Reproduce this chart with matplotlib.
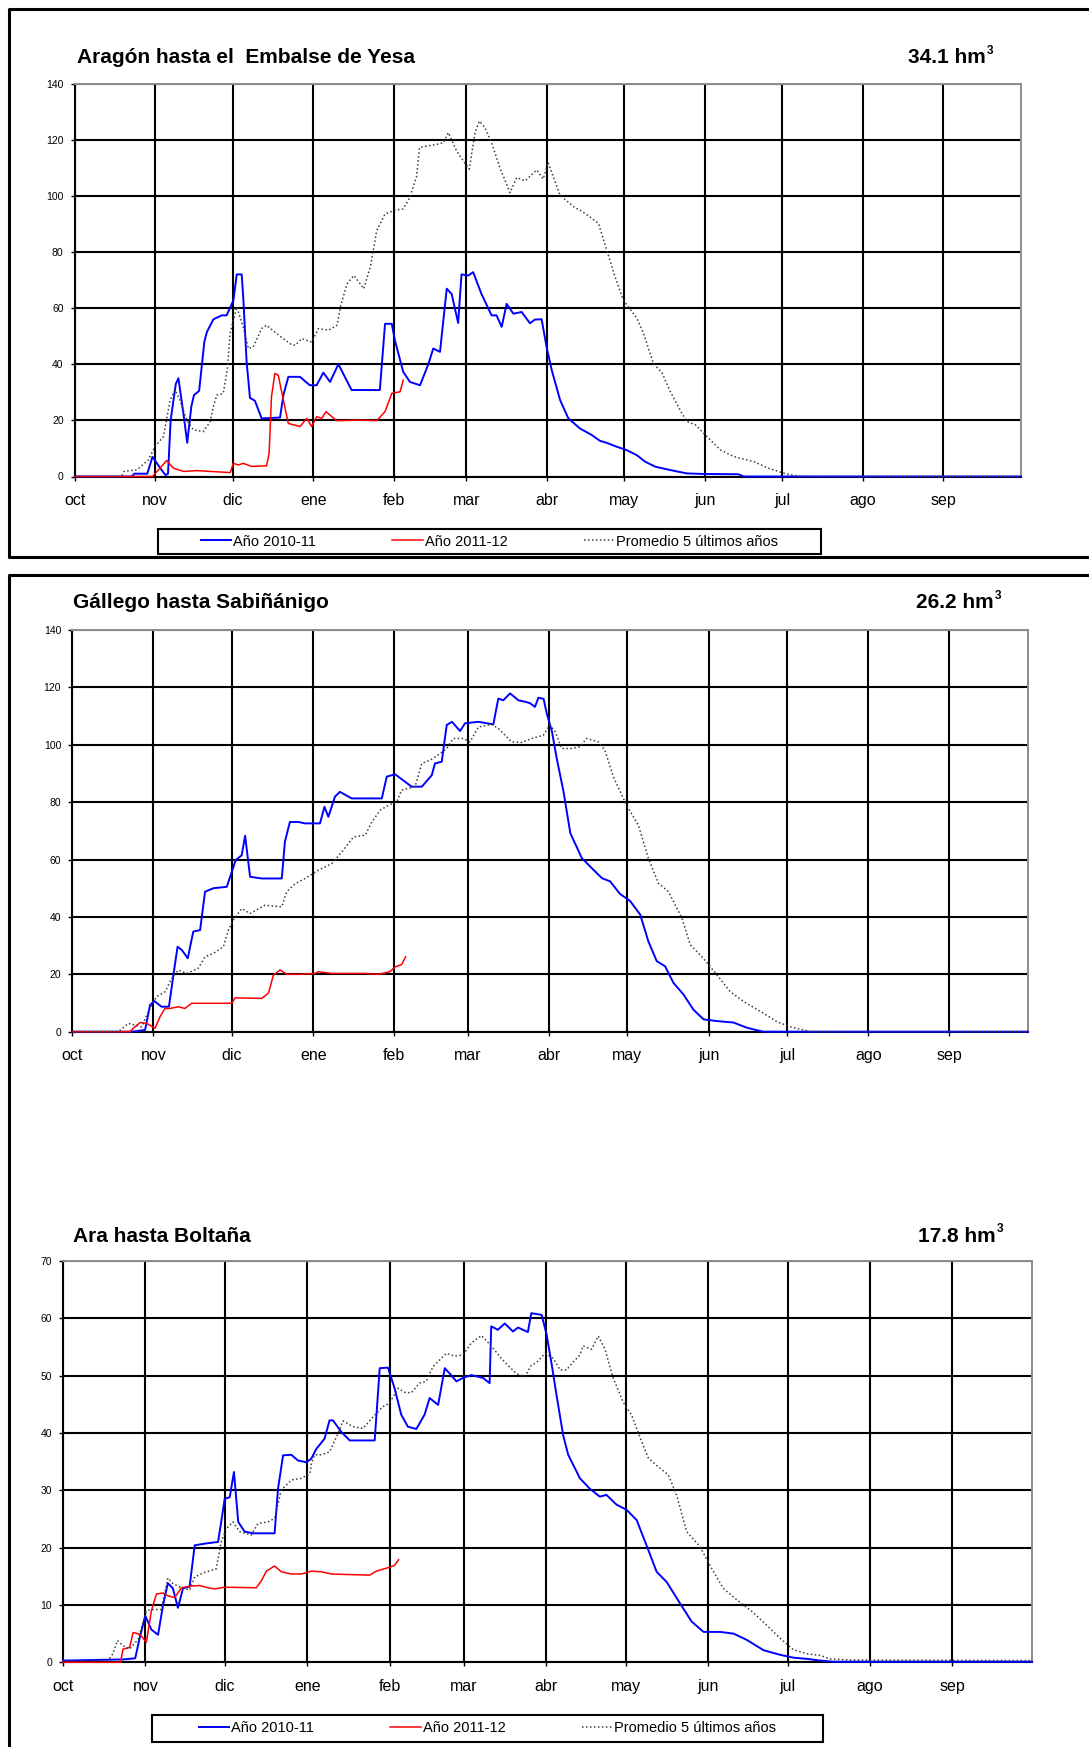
import matplotlib
matplotlib.use("Agg")
import matplotlib.pyplot as plt
from matplotlib.lines import Line2D
from matplotlib.patches import Rectangle

plt.rcParams['font.family'] = ['Liberation Sans', 'DejaVu Sans']

# Meses del año hidrológico (día 0 = 1 de octubre)
meses = ['oct', 'nov', 'dic', 'ene', 'feb', 'mar', 'abr', 'may', 'jun', 'jul', 'ago', 'sep']
inicio_mes = [0, 31, 61, 92, 123, 151, 182, 212, 243, 273, 304, 335]

etiquetas = ['Año 2010-11', 'Año 2011-12', 'Promedio 5 últimos años']

# --- Aragón hasta el Embalse de Yesa (día, hm3) ---
aragon_1011 = [(0, 0), (22, 0), (23, 1), (28, 1), (30, 7), (33, 3), (35, 0.5), (36, 1), (37, 20), (39, 33),
               (40, 35), (42, 22), (43.4, 12), (45, 25), (46, 29), (48, 30.5), (50, 48), (51, 51.5), (53.5, 56),
               (56.7, 57.4), (58.6, 57.4), (61.2, 62.7), (62.5, 72), (64.4, 72), (65, 64), (66.3, 41), (67.6, 28),
               (69.5, 27), (72.1, 20.7), (79.2, 21), (80.5, 29), (82.4, 35.5), (86.9, 35.5), (90.7, 32.5),
               (93.3, 32.5), (95.9, 37), (98.5, 33.7), (101.7, 40), (106.8, 30.8), (117.7, 30.8), (119.7, 54.4),
               (122.3, 54.4), (123.5, 48.5), (126.7, 37.3), (129.3, 33.7), (133.2, 32.5), (136.4, 40),
               (138.3, 45.6), (140.9, 44.4), (143.5, 66.9), (145.4, 65), (147.9, 54.7), (149.2, 72),
               (151.8, 71.6), (153.7, 72.8), (156.9, 65), (160.8, 57.4), (162.7, 57.4), (164.7, 53.3),
               (166.6, 61.5), (169.2, 58), (172.4, 58.6), (175.6, 54.6), (177.5, 55.9), (180.1, 56.0),
               (182.0, 46.2), (184.0, 37.9), (187.2, 27.3), (190.4, 20.7), (194.9, 17.1), (199.4, 14.8),
               (202.6, 12.7), (205.2, 12.0), (209.1, 10.6), (212.9, 9.4), (216.8, 7.6), (220.0, 5.3),
               (223.9, 3.5), (229.7, 2.3), (236.1, 1.1), (242.5, 0.9), (256.0, 0.8), (258.0, 0), (365, 0)]
aragon_1112 = [(0, 0), (30, 0), (35.5, 5.7), (38, 3), (42, 1.8), (47, 2.1), (60, 1.4), (61.2, 4.7), (63.1, 4.1),
               (65, 4.7), (68.2, 3.6), (74, 3.8), (75, 8.3), (75.9, 28.4), (77.2, 36.7), (78.5, 36.1),
               (80.5, 27.2), (82.4, 18.9), (86.9, 17.8), (89.5, 20.7), (91.4, 17.8), (93.3, 21.3), (95.3, 20.7),
               (96.9, 23.1), (101, 19.9), (110, 20.1), (116.5, 19.9), (119.7, 23.1), (122.3, 29.6),
               (125.5, 30.2), (126.7, 34.3)]
aragon_prom = [(0, 0), (18, 0), (19, 1.8), (24, 2.4), (28.4, 5.9), (31, 10.7), (34.2, 14.2), (36.8, 27.2),
               (38.7, 30.8), (40.6, 27.2), (43.2, 20.1), (45.8, 16.6), (49.6, 16), (52.2, 19.5), (53.5, 24.9),
               (54.8, 29), (57.3, 29.6), (58.9, 38.5), (59.9, 50.9), (61.2, 55.6), (62.5, 60.4), (65, 53.3),
               (67, 45.6), (68.9, 46.2), (72.1, 52.7), (74, 53.9), (77.9, 50.9), (83.1, 47.3), (85, 46.7),
               (87.6, 49.1), (91.4, 47.9), (94, 52.7), (97.9, 52.1), (101.2, 53.9), (102.5, 60.4), (105, 68.6),
               (107.7, 71.6), (111.5, 66.9), (114, 74.6), (116.5, 87.6), (119.7, 93.5), (123.5, 94.9),
               (126.7, 95.3), (129.3, 99.4), (131.9, 107.1), (133, 117.2), (136.4, 117.8), (139.6, 118.3),
               (142.2, 118.9), (144.1, 122.5), (147.3, 116), (149.9, 112.4), (152.2, 109.5), (154.4, 122.5),
               (156.1, 126.6), (158.2, 124.3), (160.8, 118.9), (164, 110), (167.9, 101.1), (170.5, 106.5),
               (173.7, 105.3), (178.2, 109.2), (180.7, 106), (182.6, 111.9), (187.2, 100.2), (193, 95.7),
               (194.9, 94.9), (198.7, 92.5), (202, 90.2), (205.2, 80.7), (208.4, 71.2), (211.6, 62.9),
               (216.8, 56.4), (219.4, 51), (223.2, 40.3), (226.5, 37), (229.7, 30.3), (234.2, 22.5),
               (236.1, 19.6), (239.4, 18.4), (243.9, 14.2), (249, 9.5), (254.2, 7.1), (261.9, 5.3),
               (267.7, 2.9), (273.5, 1.2), (277.3, 0.4), (280, 0), (365, 0)]

# --- Gállego hasta Sabiñánigo ---
gallego_1011 = [(0, 0), (22.7, 0), (27.8, 0.6), (29.7, 9.3), (31.3, 10.7), (34.1, 8.7), (36.9, 8.7), (38.6, 19.7),
                (40.2, 29.6), (41.8, 28.5), (44.1, 25.6), (46.2, 34.9), (48.8, 35.4), (50.7, 48.8), (53.9, 50.0),
                (59.0, 50.5), (60.9, 55.7), (62.4, 59.8), (64.7, 61.5), (66.0, 68.3), (67.9, 54.0), (72.3, 53.4),
                (80.0, 53.4), (81.2, 66.2), (83.1, 73.1), (86.3, 73.1), (88.9, 72.6), (94.6, 72.6), (96.3, 78.4),
                (97.8, 74.9), (100.3, 81.9), (102.2, 83.6), (106.7, 81.3), (118.2, 81.3), (120.1, 88.9),
                (123.3, 89.7), (127.1, 87.1), (129.6, 85.4), (133.5, 85.4), (137.3, 89.4), (138.5, 93.5),
                (141.1, 94.1), (143.0, 106.9), (145.0, 108.0), (148.1, 104.8), (150.0, 107.5), (155.1, 108.0),
                (160.8, 107.1), (162.7, 116.1), (164.6, 115.5), (167.2, 117.9), (170.4, 115.5), (172.9, 115.0),
                (174.8, 114.5), (176.7, 113.2), (178.0, 116.4), (180.0, 116.0), (181.2, 110.9), (183.2, 104.6),
                (185.0, 95.3), (187.6, 83.7), (190.2, 69.2), (194.6, 60.5), (198.4, 57.0), (202.3, 53.5),
                (205.4, 52.4), (209.2, 48.0), (213.0, 45.6), (216.9, 40.8), (220.0, 31.5), (223.2, 24.6),
                (226.4, 22.8), (229.6, 17.0), (233.4, 13.0), (237.2, 7.7), (241.1, 4.3), (246.2, 3.7),
                (252.5, 3.2), (257.6, 1.4), (261.5, 0.5), (264, 0), (365, 0)]
gallego_1112 = [(0, 0), (22, 0), (23.3, 1.2), (25.9, 3.2), (28.4, 2.9), (31.6, 1.2), (33.5, 5.2), (35.4, 8.1),
                (37.3, 8.1), (40.5, 8.7), (43.0, 8.1), (45.6, 9.9), (60.9, 9.9), (62.2, 11.8), (72.3, 11.6),
                (74.9, 13.4), (76.8, 19.7), (79.3, 21.5), (81.9, 20.0), (86.3, 20.0), (92.7, 20.3), (94.0, 20.9),
                (99.1, 20.3), (111.8, 20.3), (116.9, 20.0), (121.3, 20.9), (123.3, 22.6), (125.8, 23.4),
                (127.3, 26.1)]
gallego_prom = [(0, 0), (17.6, 0), (21.4, 2.9), (26.5, 1.7), (29.0, 7.0), (32.2, 12.2), (35.4, 13.9), (38.0, 18.6),
                (40.5, 21.5), (43.7, 20.3), (48.1, 22.1), (50.7, 26.1), (53.9, 27.3), (57.7, 29.6), (59.6, 35.4),
                (61.5, 38.9), (64.7, 42.9), (67.9, 41.2), (73.6, 44.1), (80.0, 43.5), (81.9, 48.8), (85.1, 51.6),
                (88.9, 53.4), (94.0, 56.3), (99.1, 58.6), (103.0, 62.7), (107.4, 67.9), (111.9, 68.5),
                (114.4, 73.1), (117.6, 77.2), (120.7, 78.9), (123.9, 80.1), (125.8, 84.2), (130.9, 85.4),
                (133.5, 93.5), (136.6, 94.6), (140.4, 96.9), (143.0, 98.7), (145.5, 102.2), (149.4, 102.2),
                (151.9, 101.0), (155.1, 106.2), (160.2, 107.1), (162.7, 105.7), (167.8, 101.0), (171.6, 100.8),
                (175.4, 102.2), (179.9, 103.3), (182.4, 106.9), (184.4, 104.6), (186.9, 98.7), (190.7, 98.7),
                (193.9, 99.3), (196.4, 102.2), (200.9, 101.0), (203.4, 98.1), (206.6, 88.9), (211.7, 78.9),
                (216.2, 72.0), (220.0, 60.5), (223.8, 51.8), (227.7, 48.8), (232.8, 39.6), (236.0, 30.3),
                (241.0, 25.6), (246.2, 19.8), (251.2, 14.0), (256.4, 10.5), (264.0, 6.4), (269.1, 3.5),
                (274.2, 1.7), (279.3, 0.6), (282, 0), (365, 0)]

# --- Ara hasta Boltaña ---
ara_1011 = [(0, 0.3), (22.6, 0.5), (27.2, 0.7), (28.9, 4.3), (31.0, 8.1), (33.3, 5.7), (35.8, 4.8), (37.7, 10.0),
            (39.5, 13.8), (41.4, 12.9), (43.3, 9.5), (45.2, 12.9), (47.7, 13.2), (49.6, 20.4), (53.4, 20.7),
            (58.4, 21.0), (59.6, 24.5), (60.9, 28.5), (62.8, 28.8), (64.4, 33.2), (66.0, 24.5), (68.4, 22.8),
            (71.6, 22.5), (79.7, 22.5), (81.0, 30.3), (82.9, 36.1), (86.0, 36.2), (88.5, 35.2), (91.6, 34.9),
            (93.5, 35.5), (95.4, 37.2), (98.5, 39.0), (100.4, 42.2), (101.7, 42.2), (104.8, 40.2), (108.0, 38.7),
            (117.4, 38.7), (119.3, 51.3), (122.4, 51.4), (124.9, 47.8), (127.4, 43.2), (129.9, 41.1),
            (133.1, 40.7), (136.2, 43.2), (138.1, 46.1), (141.3, 44.9), (143.8, 51.3), (145.6, 50.4),
            (148.2, 49.0), (150.6, 49.6), (153.8, 50.1), (158.2, 49.6), (160.7, 48.7), (161.3, 58.6),
            (163.8, 58.0), (166.4, 59.1), (169.5, 57.7), (171.4, 58.4), (175.1, 57.6), (176.4, 60.9),
            (180.3, 60.6), (182.2, 57.1), (184.1, 51.9), (185.9, 46.6), (188.4, 39.6), (190.3, 36.2),
            (194.7, 32.1), (198.4, 30.3), (202.2, 28.9), (204.7, 29.2), (208.5, 27.5), (212.3, 26.6),
            (216.1, 24.8), (219.8, 20.4), (223.6, 15.8), (227.4, 14.0), (232.4, 10.3), (236.8, 7.1),
            (241.3, 5.3), (247.6, 5.3), (252.6, 5.0), (257.6, 3.9), (263.9, 2.1), (270.2, 1.3), (275.2, 0.8),
            (280.2, 0.6), (285.3, 0.3), (290, 0.1), (365, 0.1)]
ara_1112 = [(0, 0), (21.7, 0), (22.6, 2.3), (25.1, 2.6), (26.4, 5.2), (28.9, 4.9), (31.4, 3.5), (33.3, 9.0),
            (35.2, 11.9), (37.7, 12.1), (39.5, 11.6), (42.1, 11.3), (44.6, 13.0), (48.3, 13.3), (51.5, 13.4),
            (54.6, 13.0), (57.1, 12.8), (60.9, 13.1), (72.8, 13.0), (74.7, 14.2), (76.6, 15.9), (79.7, 16.8),
            (82.2, 15.8), (86.0, 15.4), (89.8, 15.4), (93.5, 15.9), (97.3, 15.8), (101.1, 15.4), (115.5, 15.2),
            (118.0, 15.9), (122.4, 16.5), (124.9, 16.9), (126.4, 17.9)]
ara_prom = [(0, 0.3), (17, 0.3), (18.8, 1.5), (20.5, 3.8), (22.6, 2.9), (25.1, 2.3), (28.3, 4.0), (31.4, 9.0),
            (33.3, 9.2), (37.0, 9.2), (39.5, 14.7), (41.4, 13.7), (45.2, 12.9), (47.7, 12.6), (49.6, 14.9),
            (53.4, 15.7), (57.7, 16.3), (59.6, 21.0), (61.5, 23.3), (64.0, 24.5), (66.5, 22.8), (70.9, 22.2),
            (73.4, 24.2), (77.2, 24.5), (79.7, 25.1), (82.2, 30.0), (86.0, 31.8), (89.8, 32.1), (93.0, 32.9),
            (93.6, 34.7), (94.8, 36.2), (97.3, 36.2), (100.4, 36.7), (103.0, 39.3), (105.5, 42.1), (109.2, 41.1),
            (113.0, 40.8), (116.8, 42.8), (120.5, 44.6), (123.0, 45.2), (126.2, 47.8), (128.7, 47.1),
            (131.2, 47.0), (134.3, 48.7), (136.8, 49.0), (139.4, 51.6), (144.4, 53.9), (147.5, 53.4),
            (150.6, 53.6), (153.8, 55.7), (157.6, 57.0), (161.3, 55.2), (165.1, 53.0), (167.6, 51.8),
            (170.7, 50.4), (173.9, 49.8), (176.4, 51.8), (178.4, 52.3), (181.6, 53.9), (184.7, 53.0),
            (187.2, 51.0), (189.7, 51.0), (192.2, 52.4), (194.7, 53.6), (195.9, 55.2), (199.1, 54.6),
            (201.6, 56.9), (204.1, 54.7), (207.3, 49.5), (211.0, 45.4), (214.2, 43.1), (217.3, 39.3),
            (220.5, 35.6), (224.2, 34.1), (228.0, 32.7), (231.1, 29.2), (234.9, 22.8), (239.9, 20.2),
            (244.3, 16.4), (248.7, 12.9), (253.8, 10.9), (259.4, 8.9), (265.0, 6.5), (270.1, 4.2),
            (275.1, 2.2), (280.1, 1.5), (285.2, 1.2), (288.9, 0.6), (296.5, 0.4), (365, 0.3)]

W, H = 1089, 1747
fig = plt.figure(figsize=(W / 100, H / 100), dpi=100)

AZUL = '#0000ff'
ROJO = '#ff0000'
GRIS = '#3c3c3c'
PUNTOS = (0, (1, 1.6))


def fx(x):
    return x / W


def fy(y):
    return 1 - y / H


def panel(left, top, right, bottom, ymax, ystep, s1011, s1112, sprom):
    ax = fig.add_axes([fx(left), fy(bottom), (right - left) / W, (bottom - top) / H])
    ax.set_xlim(0, 365)
    ax.set_ylim(0, ymax)
    ax.set_xticks(inicio_mes)
    ax.set_xticklabels(meses, fontsize=11.5)
    ax.set_yticks(range(0, ymax + 1, ystep))
    ax.tick_params(axis='y', labelsize=7.5, length=3, width=1, pad=5, direction='out')
    ax.tick_params(axis='x', length=3, width=1, pad=9, direction='out')
    ax.grid(True, color='black', linewidth=1.5)
    ax.set_axisbelow(True)
    for lado in ['left', 'bottom']:
        ax.spines[lado].set_color('black')
        ax.spines[lado].set_linewidth(1.5)
    for lado in ['top', 'right']:
        ax.spines[lado].set_color('#8c8c8c')
        ax.spines[lado].set_linewidth(1.4)

    x, y = zip(*s1011)
    ax.plot(x, y, color=AZUL, lw=1.4, clip_on=False, zorder=3)
    x, y = zip(*s1112)
    ax.plot(x, y, color=ROJO, lw=1.1, clip_on=False, zorder=4)
    x, y = zip(*sprom)
    ax.plot(x, y, color=GRIS, lw=1.1, linestyle=PUNTOS, clip_on=False, zorder=5)
    return ax


def titulo(x_izq, x_der, base, texto, volumen):
    fig.text(fx(x_izq), fy(base), texto, fontsize=15, fontweight='bold', ha='left', va='baseline')
    fig.text(fx(x_der - 6), fy(base), volumen + ' hm', fontsize=15, fontweight='bold',
             ha='right', va='baseline')
    fig.text(fx(x_der - 5.5), fy(base - 9), '3', fontsize=8.5, fontweight='bold',
             ha='left', va='baseline')


def leyenda(left, top, right, bottom):
    handles = [Line2D([], [], color=AZUL, lw=1.4),
               Line2D([], [], color=ROJO, lw=1.1),
               Line2D([], [], color=GRIS, lw=1.1, linestyle=PUNTOS)]
    fig.legend(handles, etiquetas, loc='center',
               bbox_to_anchor=(fx((left + right) / 2), fy((top + bottom) / 2)),
               ncol=3, frameon=False, fontsize=10.5, handlelength=2.1,
               handletextpad=0.15, columnspacing=5.2, borderpad=0)
    fig.add_artist(Rectangle((fx(left), fy(bottom)), (right - left) / W, (bottom - top) / H,
                             transform=fig.transFigure, fill=False, edgecolor='black', lw=1.5))


def borde(xs, ys):
    fig.add_artist(Line2D([fx(v) for v in xs], [fy(v) for v in ys],
                          transform=fig.transFigure, color='black', lw=2.2))


# Marcos de los recuadros
borde([W, 9, 9, W], [9, 9, 557, 557])
borde([W, 9, 9], [575, 575, H])

# Aragón
panel(74.7, 83.5, 1021, 476.5, 140, 20, aragon_1011, aragon_1112, aragon_prom)
titulo(77, 992, 63, 'Aragón hasta el  Embalse de Yesa', '34.1')
leyenda(158, 529, 821, 554)

# Gállego
panel(72.3, 630, 1028, 1031.7, 140, 20, gallego_1011, gallego_1112, gallego_prom)
titulo(73, 1000, 608, 'Gállego hasta Sabiñánigo', '26.2')

# Ara
panel(63, 1261, 1032, 1662.3, 70, 10, ara_1011, ara_1112, ara_prom)
titulo(73, 1002, 1241.5, 'Ara hasta Boltaña', '17.8')
leyenda(152, 1715, 823, 1742)

fig.savefig('out.png', dpi=100)
